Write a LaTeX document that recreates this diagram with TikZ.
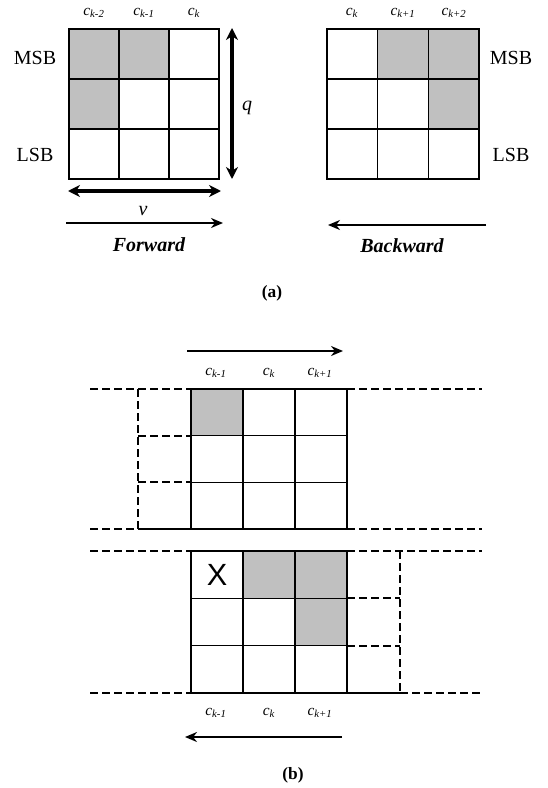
\documentclass[tikz,border=0pt]{standalone}
\usepackage{fontspec}
\setmainfont{Liberation Serif}
\newfontfamily\crossfont{Liberation Sans}
\usepackage{xcolor}
\usetikzlibrary{arrows.meta,positioning}
\definecolor{cellgray}{HTML}{C0C0C0}
\newcommand{\ck}[1]{\textit{c}\textsubscript{\textit{#1}}}
\tikzset{
    cell/.style={draw=black, line width=1.1pt},
    ghost/.style={draw=black, line width=1.6pt, dash pattern=on 6pt off 3pt},
    ghostsolid/.style={draw=black, line width=1.6pt},
    dirarrow/.style={line width=1.6pt, -{Stealth[length=9pt, width=7.5pt]}},
    dimarrow/.style={line width=2.6pt,
        {Stealth[length=9pt, width=9pt]}-{Stealth[length=9pt, width=9pt]}},
    collabel/.style={font=\fontsize{11.5}{13}\selectfont},
    bitlabel/.style={font=\fontsize{15}{17}\selectfont},
    dirlabel/.style={font=\fontsize{15}{17}\selectfont\bfseries\itshape},
    caption/.style={font=\fontsize{13}{15}\selectfont\bfseries},
}

\begin{document}
\begin{tikzpicture}[x=0.75pt, y=-0.75pt]

    \useasboundingbox (0,0) rectangle (548,788);

    % ── (a) forward grid ───────────────────────────────────────────────────
    \fill[cellgray] (69,29) rectangle (169,79) (69,79) rectangle (119,129);
    \foreach \i in {0,1,2}
        \foreach \j in {0,1,2}
            \draw[cell] (69+50*\i, 29+50*\j) rectangle ++(50,50);
    \node[collabel] (fc0) at (94,13)  {\ck{k-2}};
    \node[collabel] (fc1) at (144,13) {\ck{k-1}};
    \node[collabel] (fc2) at (194,13) {\ck{k}};
    \node[bitlabel] (fmsb) at (35,58)  {MSB};
    \node[bitlabel] (flsb) at (35,155) {LSB};

    % q and nu dimensions
    \coordinate (qtop) at (232,28);
    \coordinate (qbot) at (232,179);
    \draw[dimarrow] (qtop) -- (qbot);
    \node[bitlabel] (qlab) at (247,108) {\textit{q}};
    \coordinate (nuleft)  at (68,191);
    \coordinate (nuright) at (221,191);
    \draw[dimarrow] (nuleft) -- (nuright);
    \node[bitlabel] (nulab) at (143,211) {\textit{ν}};

    \coordinate (fwdstart) at (66,223);
    \coordinate (fwdend)   at (223,223);
    \draw[dirarrow] (fwdstart) -- (fwdend);
    \node[dirlabel] (fwdlab) at (149,245) {Forward};

    % ── (a) backward grid ──────────────────────────────────────────────────
    \fill[cellgray] (377.5,29) rectangle (479,79) (428,79) rectangle (479,129);
    \foreach \i in {0,1,2}
        \foreach \j in {0,1,2}
            \draw[cell] (327+50.7*\i, 29+50*\j) rectangle ++(50.7,50);
    \node[collabel] (bc0) at (352,13) {\ck{k}};
    \node[collabel] (bc1) at (403,13) {\ck{k+1}};
    \node[collabel] (bc2) at (454,13) {\ck{k+2}};
    \node[bitlabel] (bmsb) at (511,58)  {MSB};
    \node[bitlabel] (blsb) at (511,155) {LSB};

    \coordinate (bwdstart) at (486,225);
    \coordinate (bwdend)   at (328,225);
    \draw[dirarrow] (bwdstart) -- (bwdend);
    \node[dirlabel] (bwdlab) at (402,246) {Backward};

    \node[caption] (capa) at (272,293) {(a)};

    % ── (b) upper window ───────────────────────────────────────────────────
    \coordinate (upstart) at (187,351);
    \coordinate (upend)   at (343,351);
    \draw[dirarrow] (upstart) -- (upend);
    \node[collabel] (uc0) at (216,373) {\ck{k-1}};
    \node[collabel] (uc1) at (269,373) {\ck{k}};
    \node[collabel] (uc2) at (320,373) {\ck{k+1}};

    \fill[cellgray] (191,389) rectangle (243,435.7);
    \foreach \i in {0,1,2}
        \foreach \j in {0,1,2}
            \draw[cell] (191+52*\i, 389+46.7*\j) rectangle ++(52,46.7);

    % lane borders
    \draw[ghost] (90,389) -- (191,389) (347,389) -- (482,389);
    \draw[ghost] (90,529) -- (138,529) (347,529) -- (482,529);
    % column leaving on the left
    \draw[ghost] (138,389) -- (138,529);
    \draw[ghost] (191,389) -- (191,529);
    \draw[ghost] (138,435.7) -- (191,435.7) (138,482.3) -- (191,482.3);
    \draw[ghostsolid] (138,529) -- (191,529);

    % ── (b) lower window ───────────────────────────────────────────────────
    \fill[cellgray] (243,551) rectangle (347,598.3) (295,598.3) rectangle (347,645.7);
    \foreach \i in {0,1,2}
        \foreach \j in {0,1,2}
            \draw[cell] (191+52*\i, 551+47.3*\j) rectangle ++(52,47.3);
    \node[font=\crossfont\fontsize{23}{24}\selectfont] (cross) at (217,575) {X};

    % lane borders
    \draw[ghost] (90,551) -- (243,551) (347,551) -- (482,551);
    \draw[ghost] (90,693) -- (243,693) (400,693) -- (482,693);
    % column entering on the right
    \draw[ghost] (400,551) -- (400,693);
    \draw[ghost] (347,598.3) -- (400,598.3) (347,645.7) -- (400,645.7);
    \draw[ghost] (347,645.7) -- (347,693);
    \draw[ghostsolid] (347,693) -- (400,693);

    \node[collabel] (lc0) at (216,713) {\ck{k-1}};
    \node[collabel] (lc1) at (269,713) {\ck{k}};
    \node[collabel] (lc2) at (320,713) {\ck{k+1}};
    \coordinate (lowstart) at (342,737);
    \coordinate (lowend)   at (185,737);
    \draw[dirarrow] (lowstart) -- (lowend);

    \node[caption] (capb) at (293,775) {(b)};

\end{tikzpicture}
\end{document}
